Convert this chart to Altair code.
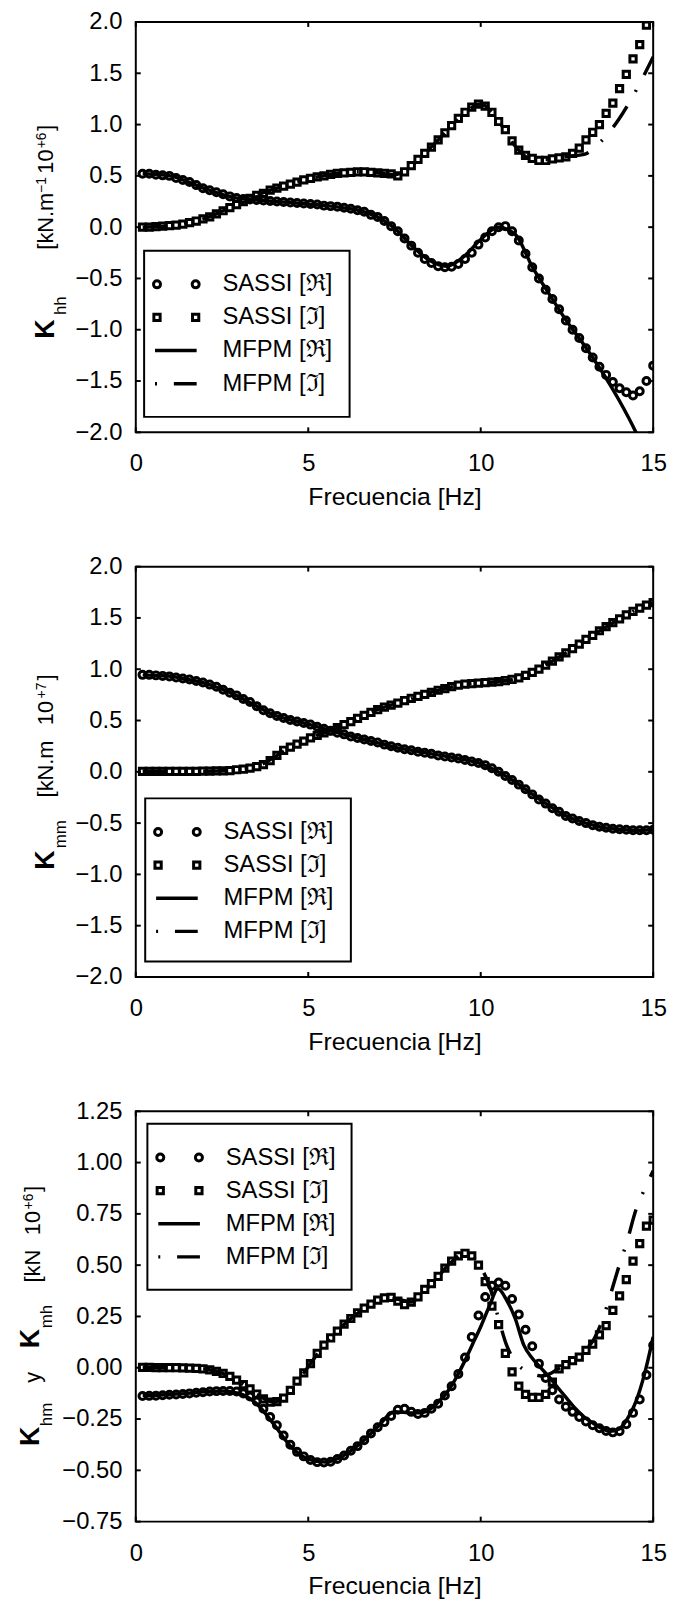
import altair as alt
import pandas as pd

FONT = "Liberation Sans"

# ---------------- data ----------------
FREQ = [0.195, 0.390, 0.584, 0.779, 0.974, 1.169, 1.364, 1.558, 1.753, 1.948,
        2.143, 2.338, 2.532, 2.727, 2.922, 3.117, 3.312, 3.506, 3.701, 3.896,
        4.091, 4.286, 4.481, 4.675, 4.870, 5.065, 5.260, 5.455, 5.649, 5.844,
        6.039, 6.234, 6.429, 6.623, 6.818, 7.013, 7.208, 7.403, 7.597, 7.792,
        7.987, 8.182, 8.377, 8.571, 8.766, 8.961, 9.156, 9.351, 9.545, 9.740,
        9.935, 10.130, 10.325, 10.519, 10.714, 10.909, 11.104, 11.299, 11.494, 11.688,
        11.883, 12.078, 12.273, 12.468, 12.662, 12.857, 13.052, 13.247, 13.442, 13.636,
        13.831, 14.026, 14.221, 14.416, 14.610, 14.805, 15.000]

KHH_SASSI_RE = [0.52, 0.52, 0.51, 0.505, 0.50, 0.48, 0.46, 0.44, 0.41, 0.38,
                0.36, 0.34, 0.32, 0.30, 0.285, 0.275, 0.27, 0.265, 0.26, 0.255,
                0.25, 0.245, 0.24, 0.235, 0.23, 0.225, 0.22, 0.21, 0.205, 0.20,
                0.19, 0.18, 0.165, 0.15, 0.12, 0.10, 0.06, 0.01, -0.04, -0.11,
                -0.18, -0.25, -0.31, -0.35, -0.38, -0.39, -0.385, -0.36, -0.31, -0.25,
                -0.17, -0.10, -0.04, 0.0, 0.01, -0.04, -0.13, -0.26, -0.39, -0.50,
                -0.61, -0.70, -0.80, -0.91, -1.00, -1.08, -1.18, -1.27, -1.36, -1.44,
                -1.51, -1.57, -1.61, -1.64, -1.60, -1.50, -1.35]
KHH_SASSI_IM = [0.0, 0.0, 0.005, 0.01, 0.015, 0.02, 0.03, 0.045, 0.06, 0.08,
                0.10, 0.13, 0.16, 0.19, 0.22, 0.25, 0.28, 0.31, 0.33, 0.36,
                0.38, 0.40, 0.42, 0.44, 0.46, 0.475, 0.49, 0.50, 0.515, 0.525,
                0.53, 0.535, 0.54, 0.54, 0.535, 0.53, 0.525, 0.52, 0.50, 0.54,
                0.60, 0.66, 0.72, 0.78, 0.85, 0.92, 0.99, 1.06, 1.12, 1.17,
                1.20, 1.18, 1.12, 1.03, 0.95, 0.84, 0.75, 0.70, 0.67, 0.65,
                0.65, 0.665, 0.675, 0.685, 0.72, 0.77, 0.85, 0.925, 1.00, 1.11,
                1.21, 1.35, 1.49, 1.64, 1.78, 1.97, 2.08]

KMM_SASSI_RE = [0.945, 0.945, 0.94, 0.935, 0.93, 0.92, 0.91, 0.90, 0.885, 0.87,
                0.85, 0.83, 0.80, 0.77, 0.745, 0.71, 0.68, 0.64, 0.60, 0.57,
                0.545, 0.525, 0.505, 0.49, 0.475, 0.46, 0.44, 0.42, 0.40, 0.38,
                0.365, 0.345, 0.33, 0.315, 0.30, 0.285, 0.265, 0.25, 0.235, 0.22,
                0.21, 0.195, 0.185, 0.175, 0.16, 0.15, 0.14, 0.13, 0.115, 0.10,
                0.085, 0.065, 0.035, 0.0, -0.04, -0.08, -0.125, -0.17, -0.22, -0.27,
                -0.31, -0.355, -0.39, -0.43, -0.455, -0.48, -0.50, -0.52, -0.535, -0.545,
                -0.555, -0.56, -0.565, -0.57, -0.57, -0.57, -0.565]
KMM_SASSI_IM = [0.005, 0.005, 0.005, 0.005, 0.005, 0.005, 0.005, 0.005, 0.005, 0.006,
                0.007, 0.008, 0.01, 0.012, 0.02, 0.025, 0.035, 0.05, 0.07, 0.11,
                0.16, 0.21, 0.24, 0.27, 0.30, 0.33, 0.355, 0.38, 0.40, 0.43,
                0.46, 0.49, 0.52, 0.55, 0.58, 0.605, 0.63, 0.65, 0.67, 0.695,
                0.715, 0.735, 0.755, 0.775, 0.795, 0.81, 0.83, 0.845, 0.855, 0.86,
                0.865, 0.87, 0.875, 0.88, 0.89, 0.90, 0.915, 0.94, 0.97, 1.00,
                1.04, 1.08, 1.12, 1.16, 1.20, 1.245, 1.29, 1.33, 1.375, 1.415,
                1.455, 1.49, 1.53, 1.565, 1.595, 1.625, 1.65]

KHM_SASSI_RE = [-0.138, -0.137, -0.136, -0.134, -0.132, -0.13, -0.128, -0.125, -0.122, -0.119,
                -0.116, -0.114, -0.113, -0.113, -0.116, -0.125, -0.14, -0.165, -0.2, -0.24,
                -0.28, -0.33, -0.375, -0.41, -0.432, -0.45, -0.46, -0.462, -0.458, -0.445,
                -0.428, -0.405, -0.382, -0.353, -0.32, -0.29, -0.265, -0.235, -0.205, -0.2,
                -0.215, -0.225, -0.22, -0.2, -0.175, -0.135, -0.09, -0.03, 0.05, 0.15,
                0.255, 0.345, 0.40, 0.415, 0.40, 0.335, 0.26, 0.185, 0.105, 0.02,
                -0.05, -0.11, -0.155, -0.19, -0.215, -0.24, -0.262, -0.28, -0.295, -0.308,
                -0.315, -0.31, -0.275, -0.22, -0.155, -0.035, 0.11]
KHM_SASSI_IM = [0.002, 0.002, 0.001, 0.001, 0.0, 0.0, -0.001, -0.002, -0.003, -0.005,
                -0.01, -0.018, -0.028, -0.042, -0.06, -0.082, -0.103, -0.128, -0.152, -0.167,
                -0.165, -0.148, -0.11, -0.065, -0.025, 0.02, 0.07, 0.11, 0.145, 0.178,
                0.212, 0.24, 0.268, 0.29, 0.31, 0.33, 0.34, 0.343, 0.325, 0.308,
                0.32, 0.345, 0.382, 0.41, 0.445, 0.485, 0.52, 0.545, 0.558, 0.545,
                0.50, 0.42, 0.30, 0.21, 0.07, -0.02, -0.09, -0.13, -0.145, -0.145,
                -0.13, -0.07, -0.005, 0.015, 0.035, 0.052, 0.085, 0.115, 0.16, 0.205,
                0.28, 0.35, 0.43, 0.52, 0.605, 0.69, 0.72]

MFPM_FREQ_A = [0.2, 0.5, 1.0, 1.5, 2.0, 2.5, 3.0, 3.5, 4.0, 4.5, 5.0, 5.5, 6.0, 6.5, 7.0, 7.5,
               8.0, 8.5, 9.0, 9.5, 10.0, 10.5, 11.0, 11.5, 12.0, 12.5, 13.0, 13.5, 14.0, 14.5, 15.0]
KHH_MFPM_RE = [0.52, 0.515, 0.50, 0.445, 0.375, 0.32, 0.28, 0.265, 0.25, 0.24, 0.225, 0.21, 0.19, 0.16,
               0.10, -0.01, -0.18, -0.32, -0.38, -0.29, -0.12, 0.0, -0.07, -0.39, -0.66, -0.92, -1.15,
               -1.40, -1.68, -2.0, -2.4]
KHH_MFPM_IM = [0.0, 0.003, 0.015, 0.04, 0.085, 0.155, 0.235, 0.31, 0.37, 0.42, 0.47, 0.505, 0.53, 0.54,
               0.53, 0.51, 0.60, 0.76, 0.93, 1.10, 1.20, 1.04, 0.79, 0.66, 0.66, 0.69, 0.71, 0.84, 1.05,
               1.33, 1.66]
KMM_MFPM_RE = [0.945, 0.94, 0.93, 0.90, 0.865, 0.805, 0.73, 0.64, 0.555, 0.505, 0.465, 0.415, 0.37, 0.325,
               0.285, 0.24, 0.21, 0.18, 0.15, 0.12, 0.08, 0.0, -0.10, -0.22, -0.335, -0.435, -0.495,
               -0.54, -0.56, -0.57, -0.565]
KMM_MFPM_IM = [0.005, 0.005, 0.005, 0.005, 0.006, 0.01, 0.022, 0.05, 0.14, 0.245, 0.32, 0.385, 0.455,
               0.53, 0.605, 0.66, 0.715, 0.77, 0.815, 0.853, 0.866, 0.88, 0.905, 0.97, 1.065, 1.165,
               1.28, 1.385, 1.485, 1.58, 1.65]

MFPM_FREQ_B = [0.2, 0.5, 1.0, 1.5, 2.0, 2.5, 3.0, 3.5, 4.0, 4.5, 5.0, 5.5, 6.0, 6.5, 7.0, 7.5,
               8.0, 8.25, 8.5, 8.75, 9.0, 9.25, 9.5, 9.75, 10.0, 10.25, 10.5, 10.75, 11.0, 11.25,
               11.5, 11.75, 12.0, 12.25, 12.5, 12.75, 13.0, 13.25, 13.5, 13.75, 14.0, 14.25, 14.5,
               14.75, 15.0]
KHM_MFPM_RE = [-0.135, -0.135, -0.13, -0.125, -0.117, -0.113, -0.125, -0.175, -0.275, -0.385, -0.445,
               -0.46, -0.43, -0.37, -0.29, -0.215,
               -0.22, -0.22, -0.205, -0.17, -0.125, -0.06, 0.02, 0.11, 0.20, 0.30, 0.385, 0.33, 0.24,
               0.11, 0.045, -0.002, -0.048, -0.10, -0.15, -0.20, -0.24, -0.27, -0.295, -0.31, -0.30,
               -0.25, -0.165, -0.03, 0.15]
KHM_MFPM_IM = [0.002, 0.001, 0.0, -0.002, -0.006, -0.026, -0.07, -0.128, -0.168, -0.105, 0.005, 0.12,
               0.205, 0.275, 0.33, 0.335,
               0.32, 0.355, 0.395, 0.44, 0.49, 0.53, 0.555, 0.545, 0.49, 0.40, 0.25, 0.11, 0.03,
               -0.01, -0.03, -0.04, -0.03, -0.005, 0.018, 0.045, 0.085, 0.13, 0.22, 0.35, 0.49, 0.62,
               0.77, 0.87, 0.96]

XTICKS = [0, 5, 10, 15]
YTICKS_A = [-2.0, -1.5, -1.0, -0.5, 0.0, 0.5, 1.0, 1.5, 2.0]
YTICKS_B = [-0.75, -0.5, -0.25, 0.0, 0.25, 0.5, 0.75, 1.0, 1.25]
LEG_LABELS = ["SASSI [\u211c]", "SASSI [\u2111]", "MFPM [\u211c]", "MFPM [\u2111]"]
X_TITLE = "Frecuencia [Hz]"

# y-axis titles: (text, font size, weight, x baseline, y start) in panel pixels
TITLE_TOP = [("K", 27, "bold", -82.3, 319.7), ("hh", 17, "normal", -70.3, 295.7),
             ("[kN.m", 22, "normal", -83.3, 229.7), ("\u22121", 14, "normal", -91.0, 172.5),
             ("10", 22, "normal", -83.3, 153.0), ("+6", 14, "normal", -91.0, 127.5),
             ("]", 22, "normal", -83.3, 110.0)]
TITLE_MID = [("K", 27, "bold", -82.3, 305.7), ("mm", 17, "normal", -70.3, 284.2),
             ("[kN.m", 22, "normal", -83.3, 232.8), ("10", 22, "normal", -83.3, 160.0),
             ("+7", 14, "normal", -91.0, 133.0), ("]", 22, "normal", -83.3, 115.0)]
TITLE_BOT = [("K", 27, "bold", -97.3, 337.7), ("hm", 17, "normal", -84.3, 317.7),
             ("y", 22, "normal", -96.3, 274.0), ("K", 27, "bold", -97.3, 239.0),
             ("mh", 17, "normal", -84.3, 219.0), ("[kN", 22, "normal", -96.3, 172.7),
             ("10", 22, "normal", -96.3, 125.0), ("+6", 14, "normal", -104.0, 99.0),
             ("]", 22, "normal", -96.3, 81.5)]

W, H = 522, 414
DASH = [25, 17, 2, 17]
TICK = 5
LW = 3.5
CIRC = dict(shape="circle", filled=False, size=50, strokeWidth=3, color="black", opacity=1)
SQR = dict(shape="square", filled=False, size=40, strokeWidth=3, color="black", opacity=1)


def one():
    return pd.DataFrame({"d": [0]})


def panel(s_re, s_im, mf, m_re, m_im, ydom, yticks, yfmt, box, title):
    sassi = pd.DataFrame({"f": FREQ, "re": s_re, "im": s_im})
    mfpm = pd.DataFrame({"f": mf, "re": m_re, "im": m_im})
    xs = alt.Scale(domain=[0, 15], nice=False, zero=False)
    ys = alt.Scale(domain=ydom, nice=False, zero=False)
    xax = alt.Axis(values=XTICKS, format="d", title=X_TITLE, ticks=False, tickSize=0,
                   domain=False, grid=False, labelPadding=20, titlePadding=9,
                   labelFlush=False, labelOverlap=False, titleFontSize=25)
    yax = alt.Axis(values=yticks, format=yfmt, title=None, ticks=False, tickSize=0,
                   domain=False, grid=False, labelPadding=14, labelFlush=False,
                   labelOverlap=False)
    X = lambda fld: alt.X(fld, scale=xs, axis=xax)
    Y = lambda fld: alt.Y(fld, scale=ys, axis=yax)

    layers = []
    layers.append(alt.Chart(sassi).mark_point(clip=True, **CIRC)
                  .encode(x=X("f:Q"), y=Y("re:Q")))
    layers.append(alt.Chart(sassi).mark_point(clip=True, **SQR)
                  .encode(x=X("f:Q"), y=Y("im:Q")))
    layers.append(alt.Chart(mfpm).mark_line(color="black", strokeWidth=LW, interpolate="monotone",
                                            clip=True)
                  .encode(x=X("f:Q"), y=Y("re:Q")))
    layers.append(alt.Chart(mfpm).mark_line(color="black", strokeWidth=LW, interpolate="monotone",
                                            strokeDash=DASH, strokeCap="butt", clip=True)
                  .encode(x=X("f:Q"), y=Y("im:Q")))

    # inward ticks on all four sides
    xt = pd.DataFrame({"t": XTICKS})
    yt = pd.DataFrame({"t": yticks})
    rule = dict(color="black", strokeWidth=2)
    layers.append(alt.Chart(xt).mark_rule(**rule).encode(
        x=X("t:Q"), y=alt.value(H), y2=alt.value(H - TICK)))
    layers.append(alt.Chart(xt).mark_rule(**rule).encode(
        x=X("t:Q"), y=alt.value(0), y2=alt.value(TICK)))
    layers.append(alt.Chart(yt).mark_rule(**rule).encode(
        y=Y("t:Q"), x=alt.value(0), x2=alt.value(TICK)))
    layers.append(alt.Chart(yt).mark_rule(**rule).encode(
        y=Y("t:Q"), x=alt.value(W - TICK), x2=alt.value(W)))

    # legend
    bl, bt, br, bb = box
    layers.append(alt.Chart(one()).mark_rect(fill="white", stroke="black", strokeWidth=2).encode(
        x=alt.value(bl), x2=alt.value(br), y=alt.value(bt), y2=alt.value(bb)))
    for i, lab in enumerate(LEG_LABELS):
        yy = bt + 34 + 33.4 * i
        if i < 2:
            sty = CIRC if i == 0 else SQR
            for xx in (bl + 13, bl + 52):
                layers.append(alt.Chart(one()).mark_point(**sty).encode(
                    x=alt.value(xx), y=alt.value(yy)))
        else:
            kw = dict(color="black", strokeWidth=LW)
            if i == 3:
                kw.update(strokeDash=DASH, strokeDashOffset=42, strokeCap="butt")
            layers.append(alt.Chart(one()).mark_rule(**kw).encode(
                x=alt.value(bl + 11), x2=alt.value(bl + 53), y=alt.value(yy)))
        layers.append(alt.Chart(one()).mark_text(
            align="left", baseline="middle", font=FONT, fontSize=24, color="black").encode(
            x=alt.value(bl + 79), y=alt.value(yy), text=alt.value(lab)))

    # y-axis title pieces
    for txt, fs, fw, xx, yy in title:
        layers.append(alt.Chart(one()).mark_text(
            angle=270, align="left", baseline="alphabetic", font=FONT, fontSize=fs,
            fontWeight=fw, color="black").encode(
            x=alt.value(xx), y=alt.value(yy), text=alt.value(txt)))

    return alt.layer(*layers).properties(width=W, height=H)


p1 = panel(KHH_SASSI_RE, KHH_SASSI_IM, MFPM_FREQ_A, KHH_MFPM_RE, KHH_MFPM_IM,
           [-2, 2], YTICKS_A, ".1f", (8.4, 230.7, 215.7, 398.4), TITLE_TOP)
p2 = panel(KMM_SASSI_RE, KMM_SASSI_IM, MFPM_FREQ_A, KMM_MFPM_RE, KMM_MFPM_IM,
           [-2, 2], YTICKS_A, ".1f", (9.5, 233.8, 217.0, 398.3), TITLE_MID)
p3 = panel(KHM_SASSI_RE, KHM_SASSI_IM, MFPM_FREQ_B, KHM_MFPM_RE, KHM_MFPM_IM,
           [-0.75, 1.25], YTICKS_B, ".2f", (11.7, 12.7, 217.7, 180.0), TITLE_BOT)

chart = alt.vconcat(p1, p2, p3, spacing=135.5, bounds="flush").properties(
    padding={"left": 16, "top": 2, "right": 5, "bottom": 5}
).configure(background="white").configure_view(
    stroke="black", strokeWidth=2
).configure_axis(
    labelFont=FONT, titleFont=FONT, labelFontSize=24, titleFontSize=25,
    labelColor="black", titleColor="black", titleFontWeight="normal"
)

chart.save("out.html", embed_options={"renderer": "svg", "actions": False})
